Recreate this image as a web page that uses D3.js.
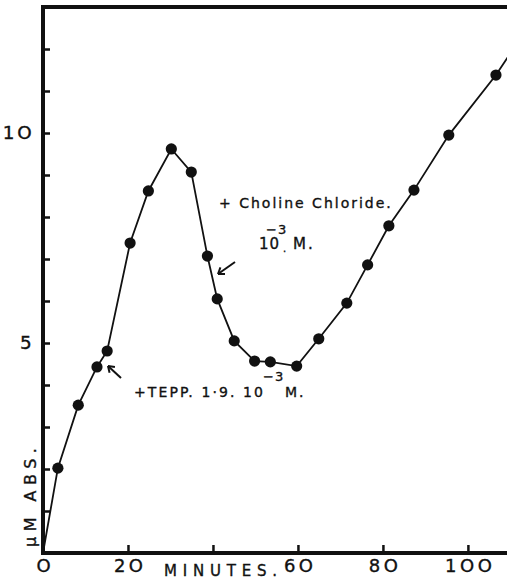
<!DOCTYPE html>
<html>
<head>
<meta charset="utf-8">
<style>
body { margin: 0; background: #fff; }
svg { display: block; }
.lbl { font-family: "DejaVu Sans", sans-serif; fill: #111; stroke: #111; stroke-width: 0.35; }
</style>
</head>
<body>
<svg width="507" height="582"></svg>
<script src="https://cdn.jsdelivr.net/npm/d3@7"></script>
<script>
// minutes vs uM absorbed
var minutes = [3.5, 8.3, 12.7, 15.1, 20.5, 24.8, 30.2, 34.9, 38.7, 41.0, 45.0, 49.8, 53.5, 59.7, 64.9, 71.5, 76.4, 81.4, 87.3, 95.5, 106.6];
var uptake  = [2.02, 3.52, 4.43, 4.81, 7.38, 8.62, 9.62, 9.07, 7.07, 6.05, 5.05, 4.57, 4.55, 4.45, 5.1, 5.95, 6.86, 7.79, 8.64, 9.95, 11.38];
// line runs from origin and off the right edge
var lineStart = [0, 0];
var lineEnd = [111, 12.05];

var xTicks = [0, 20, 40, 60, 80, 100];
var xTickLabels = {0: "O", 20: "2O", 40: "", 60: "6O", 80: "8O", 100: "1OO"};
var yTicks = [1, 2, 3, 4, 5, 6, 7, 8, 9, 10, 11, 12];
var yTickLabels = {5: "5", 10: "1O"};

var svg = d3.select("svg"),
    margin = {top: 7, right: 0, bottom: 29, left: 43},
    width = +svg.attr("width") - margin.left - margin.right,
    height = +svg.attr("height") - margin.top - margin.bottom;

var x = d3.scaleLinear().domain([0, 109.2]).range([margin.left, margin.left + width]);
var y = d3.scaleLinear().domain([0, 13]).range([margin.top + height, margin.top]);

var g = svg.append("g");

// ticks (inward)
var ya = g.append("g")
    .attr("transform", "translate(" + margin.left + ",0)")
    .call(d3.axisLeft(y).tickValues(yTicks).tickSize(-7).tickPadding(8)
      .tickFormat(function(d) { return yTickLabels[d] || ""; }));
ya.select(".domain").remove();
ya.selectAll("line").attr("stroke", "#111").attr("stroke-width", 2.5);
ya.selectAll("text").attr("class", "lbl").attr("font-size", 17).attr("letter-spacing", 2.5)
  .attr("fill", "#111").attr("transform", "scale(1.08,1)");

var xa = g.append("g")
    .attr("transform", "translate(0," + (margin.top + height) + ")")
    .call(d3.axisBottom(x).tickValues(xTicks).tickSize(-8).tickPadding(6)
      .tickFormat(function(d) { return xTickLabels[d]; }));
xa.select(".domain").remove();
xa.selectAll("line").attr("stroke", "#111").attr("stroke-width", 2.5);
xa.selectAll("text").attr("class", "lbl").attr("font-size", 18).attr("letter-spacing", 3.5)
  .attr("fill", "#111").attr("dx", 1.75);

// frame: left, bottom, top
svg.append("line").attr("x1", margin.left).attr("x2", margin.left)
  .attr("y1", y(13) - 2).attr("y2", y(0) + 2).attr("stroke", "#111").attr("stroke-width", 4);
svg.append("line").attr("x1", margin.left).attr("x2", 507)
  .attr("y1", y(0)).attr("y2", y(0)).attr("stroke", "#111").attr("stroke-width", 4);
svg.append("line").attr("x1", margin.left).attr("x2", 507)
  .attr("y1", y(13)).attr("y2", y(13)).attr("stroke", "#111").attr("stroke-width", 4);

var pts = minutes.map(function(m, i) { return [m, uptake[i]]; });
var linePts = [lineStart].concat(pts, [lineEnd]);

svg.append("clipPath").attr("id", "clip").append("rect")
  .attr("x", margin.left).attr("y", margin.top).attr("width", width).attr("height", height);

svg.append("path")
  .datum(linePts)
  .attr("clip-path", "url(#clip)")
  .attr("fill", "none")
  .attr("stroke", "#111")
  .attr("stroke-width", 1.8)
  .attr("d", d3.line().x(function(d) { return x(d[0]); }).y(function(d) { return y(d[1]); }));

svg.selectAll(".dot")
  .data(pts)
  .enter().append("circle")
    .attr("class", "dot")
    .attr("cx", function(d) { return x(d[0]); })
    .attr("cy", function(d) { return y(d[1]); })
    .attr("r", 5.6)
    .attr("fill", "#111");

// axis titles
svg.append("text").attr("class", "lbl")
  .attr("x", 164).attr("y", 576)
  .attr("font-size", 15).attr("letter-spacing", 5.8)
  .text("MINUTES.");

svg.append("text").attr("class", "lbl")
  .attr("transform", "translate(36,547) rotate(-90)")
  .attr("font-size", 16).attr("letter-spacing", 5.5)
  .text("\u03bcM ABS.");

// annotations
function arrow(x1, y1, x2, y2) {
  svg.append("line").attr("x1", x1).attr("y1", y1).attr("x2", x2).attr("y2", y2)
    .attr("stroke", "#111").attr("stroke-width", 2);
  var a = Math.atan2(y2 - y1, x2 - x1), L = 7;
  [0.6, -0.6].forEach(function(s) {
    svg.append("line").attr("x1", x2).attr("y1", y2)
      .attr("x2", x2 - L * Math.cos(a + s)).attr("y2", y2 - L * Math.sin(a + s))
      .attr("stroke", "#111").attr("stroke-width", 2);
  });
}
arrow(121, 378, 108, 366);
arrow(235, 262, 218, 274);

svg.append("text").attr("class", "lbl")
  .attr("x", 134).attr("y", 397)
  .attr("font-size", 14).attr("letter-spacing", 2.1)
  .text("+TEPP. 1\u00b79. 10");
svg.append("text").attr("class", "lbl")
  .attr("x", 263).attr("y", 381).attr("font-size", 13).attr("letter-spacing", 1).text("\u22123");
svg.append("text").attr("class", "lbl")
  .attr("x", 285).attr("y", 397).attr("font-size", 14).attr("letter-spacing", 2).text("M.");

svg.append("text").attr("class", "lbl")
  .attr("x", 219).attr("y", 208)
  .attr("font-size", 14).attr("letter-spacing", 2)
  .text("+ Choline Chloride.");
svg.append("text").attr("class", "lbl")
  .attr("x", 259).attr("y", 249).attr("font-size", 15).attr("letter-spacing", 1).text("10");
svg.append("text").attr("class", "lbl")
  .attr("x", 266).attr("y", 234).attr("font-size", 13).attr("letter-spacing", 1).text("\u22123");
svg.append("text").attr("class", "lbl")
  .attr("x", 283).attr("y", 252).attr("font-size", 10).text(".");
svg.append("text").attr("class", "lbl")
  .attr("x", 293).attr("y", 249).attr("font-size", 15).attr("letter-spacing", 2).text("M.");
</script>
</body>
</html>
